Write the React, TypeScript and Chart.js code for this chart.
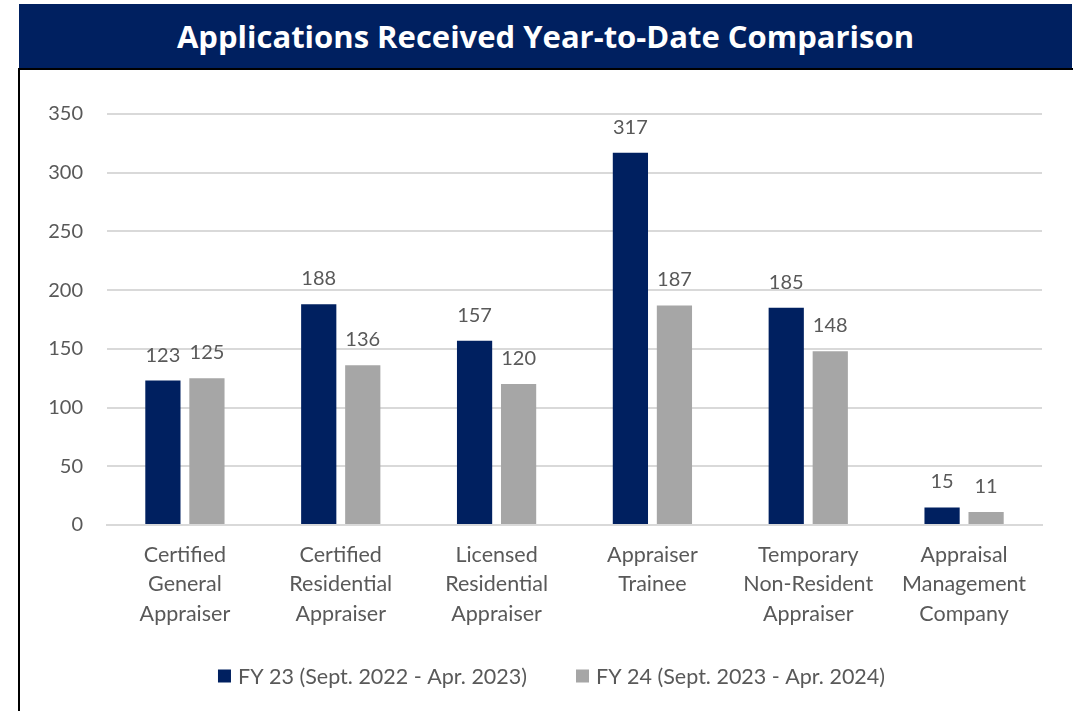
import React, { useEffect, useRef } from "react";
import { Chart, registerables } from "chart.js";

Chart.register(...registerables);

const categories: string[][] = [
  ["Certified", "General", "Appraiser"],
  ["Certified", "Residential", "Appraiser"],
  ["Licensed", "Residential", "Appraiser"],
  ["Appraiser", "Trainee"],
  ["Temporary", "Non-Resident", "Appraiser"],
  ["Appraisal", "Management", "Company"],
];
const fy23Label = "FY 23 (Sept. 2022 - Apr. 2023)";
const fy24Label = "FY 24 (Sept. 2023 - Apr. 2024)";
const fy23Values = [123, 188, 157, 317, 185, 15];
const fy24Values = [125, 136, 120, 187, 148, 11];
const yTicks = [0, 50, 100, 150, 200, 250, 300, 350];
const titleText = "Applications Received Year-to-Date Comparison";

const NAVY = "#002060";
const GRAY = "#A6A6A6";
const TEXT = "#595959";
const FONT = "Lato";

const dataLabelPlugin = {
  id: "dataLabels",
  afterDatasetsDraw(chart: any) {
    const ctx = chart.ctx;
    ctx.save();
    ctx.font = `20px ${FONT}`;
    ctx.fillStyle = TEXT;
    ctx.textAlign = "center";
    ctx.textBaseline = "alphabetic";
    chart.data.datasets.forEach((ds: any, di: number) => {
      const meta = chart.getDatasetMeta(di);
      meta.data.forEach((bar: any, i: number) => {
        ctx.fillText(String(ds.data[i]), bar.x, bar.y - 19);
      });
    });
    ctx.restore();
  },
};

const legendPlugin = {
  id: "bottomLegend",
  afterDraw(chart: any) {
    const ctx = chart.ctx;
    ctx.save();
    ctx.font = `21.5px ${FONT}`;
    ctx.textBaseline = "middle";
    ctx.textAlign = "left";
    const box = 13;
    const gap = 7;
    const itemGap = 49;
    const items = chart.data.datasets.map((ds: any) => ({
      text: ds.label,
      color: ds.backgroundColor,
      w: box + gap + ctx.measureText(ds.label).width,
    }));
    const total =
      items.reduce((s: number, it: any) => s + it.w, 0) + itemGap * (items.length - 1);
    const cy = chart.chartArea.bottom + 151;
    let x = chart.width / 2 + 5 - total / 2;
    items.forEach((it: any) => {
      ctx.fillStyle = it.color;
      ctx.fillRect(x, cy - box / 2, box, box);
      ctx.fillStyle = TEXT;
      ctx.fillText(it.text, x + box + gap, cy + 1);
      x += it.w + itemGap;
    });
    ctx.restore();
  },
};

export default function App() {
  const canvasRef = useRef<HTMLCanvasElement | null>(null);

  useEffect(() => {
    if (!canvasRef.current) return;
    const chart = new Chart(canvasRef.current, {
      type: "bar",
      data: {
        labels: categories,
        datasets: [
          {
            label: fy23Label,
            data: fy23Values,
            backgroundColor: NAVY,
            categoryPercentage: 0.565,
            barPercentage: 0.8,
          },
          {
            label: fy24Label,
            data: fy24Values,
            backgroundColor: GRAY,
            categoryPercentage: 0.565,
            barPercentage: 0.8,
          },
        ],
      },
      options: {
        animation: false,
        responsive: false,
        maintainAspectRatio: false,
        layout: { padding: { top: 44, right: 31, left: 0, bottom: 60 } },
        scales: {
          x: {
            grid: { display: false, drawTicks: false },
            border: { display: true, color: "#D9D9D9", width: 2 },
            ticks: {
              color: TEXT,
              font: { family: FONT, size: 21.5, lineHeight: 1.37 },
              padding: 15,
              maxRotation: 0,
              autoSkip: false,
            },
            afterFit: (scale: any) => {
              scale.height = 126;
            },
          },
          y: {
            min: 0,
            max: 350,
            afterBuildTicks: (scale: any) => {
              scale.ticks = yTicks.map((v) => ({ value: v }));
            },
            grid: { color: "#D9D9D9", lineWidth: 2, drawTicks: false },
            border: { display: false },
            ticks: {
              color: TEXT,
              font: { family: FONT, size: 20 },
              padding: 24,
            },
            afterFit: (scale: any) => {
              scale.width = 87;
            },
          },
        },
        plugins: {
          legend: { display: false },
          tooltip: { enabled: false },
        },
      },
      plugins: [dataLabelPlugin, legendPlugin],
    });
    return () => chart.destroy();
  }, []);

  return (
    <div
      style={{
        position: "absolute",
        left: 0,
        top: 0,
        width: 1073,
        height: 711,
        background: "#fff",
        overflow: "hidden",
      }}
    >
      <div
        style={{
          position: "absolute",
          left: 19,
          top: 4,
          width: 1053,
          height: 64,
          background: NAVY,
          color: "#fff",
          fontFamily: "'Open Sans'",
          fontWeight: 700,
          fontSize: 31,
          lineHeight: "64px",
          textAlign: "center",
          whiteSpace: "nowrap",
        }}
      >
        {titleText}
      </div>
      <div
        style={{
          position: "absolute",
          left: 18,
          top: 68,
          width: 1055,
          height: 643,
          borderLeft: "2px solid #000",
          borderTop: "2px solid #000",
          boxSizing: "border-box",
        }}
      >
        <canvas
          ref={canvasRef}
          width={1053}
          height={641}
          style={{ display: "block", width: 1053, height: 641 }}
        />
      </div>
    </div>
  );
}
